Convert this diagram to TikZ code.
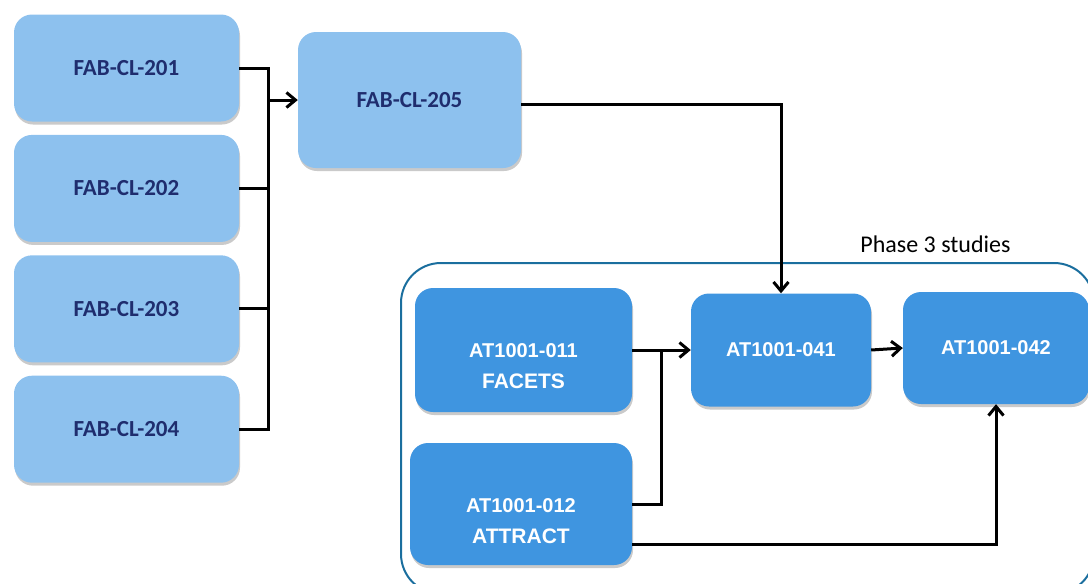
\documentclass[tikz,border=0pt]{standalone}
\usepackage{fontspec}
\setmainfont{Carlito}
\newfontfamily\arialfont{Liberation Sans}
\usetikzlibrary{
    calc,
    positioning,
    shadows,
    arrows.meta
}
\definecolor{fablight}{HTML}{8DC1EE}
\definecolor{fabnavy}{HTML}{1F2D6E}
\definecolor{atblue}{HTML}{3F95E0}
\definecolor{phaseline}{HTML}{1A6E9E}

\begin{document}
\begin{tikzpicture}[
        x=1pt, y=-1pt,
        box shadow/.style={drop shadow={shadow xshift=1pt, shadow yshift=-3pt, opacity=0.35, fill=black!60}},
        fab box/.style={rounded corners=18pt, fill=fablight, text=fabnavy, box shadow,
            minimum width=225pt, minimum height=107pt, font=\bfseries\fontsize{23}{27}\selectfont},
        at box/.style={rounded corners=18pt, fill=atblue, text=white, box shadow,
            font=\arialfont\bfseries\fontsize{20}{31}\selectfont},
        at label/.style={text=white, align=center, inner sep=0pt, font=\arialfont\bfseries\fontsize{20}{31}\selectfont},
        link/.style={line width=3pt},
        feed/.style={link, -{Straight Barb[length=9pt, width=15pt]}}
    ]
    \useasboundingbox (0,0) rectangle (1088,584);
    \clip (0,0) rectangle (1088,584);

    % earlier trials, left column
    \node[fab box] (cl201) at (126.5,68) {FAB-CL-201};
    \node[fab box, below=13pt of cl201] (cl202) {FAB-CL-202};
    \node[fab box, below=13pt of cl202] (cl203) {FAB-CL-203};
    \node[fab box, below=13pt of cl203] (cl204) {FAB-CL-204};
    \node[fab box, minimum width=223pt, minimum height=136pt] (cl205) at (409.5,100) {FAB-CL-205};

    % phase 3 group
    \draw[phaseline, line width=2pt, rounded corners=40pt] (401,263) rectangle (1094,594);
    \node[font=\fontsize{24}{28}\selectfont] (phase) at (935.5,244) {Phase 3 studies};

    \node[at box, minimum width=217pt, minimum height=124pt] (at011) at (523.5,350) {};
    \node[at label] (at011txt) at ([yshift=-16pt]at011.center) {AT1001-011\\{\fontsize{21}{31}\selectfont FACETS}};
    \node[at box, minimum width=222pt, minimum height=122pt] (at012) at (521,504) {};
    \node[at label] (at012txt) at ([yshift=-17pt]at012.center) {AT1001-012\\{\fontsize{21}{31}\selectfont ATTRACT}};
    \node[at box, minimum width=180pt, minimum height=113pt] (at041) at (781,350) {AT1001-041};
    \node[at box, minimum width=186pt, minimum height=112pt] (at042) at (996,348) {AT1001-042};

    % connectors
    \coordinate (merge) at ($(cl201.east)+(29,0)$);
    \draw[link] (cl201.east) -| (merge |- cl204.east) -- (cl204.east);
    \foreach \n in {cl202,cl203} {
        \draw[link] (\n.east) -- (merge |- \n.east);
    }
    \draw[feed] (merge |- cl205.west) -- (cl205.west);
    \draw[feed] ([yshift=-4pt]cl205.east) -| (at041.north);

    \coordinate (join) at ($(at011.east)!0.5!(at041.west)$);
    \draw[feed] (at011.east) -- (at041.west);
    \draw[link] (at012.east) -| (join);
    \draw[feed] (at041.east) -- (at042.west);
    \draw[feed] ([yshift=-40pt]at012.east) -| (at042.south);
\end{tikzpicture}
\end{document}
